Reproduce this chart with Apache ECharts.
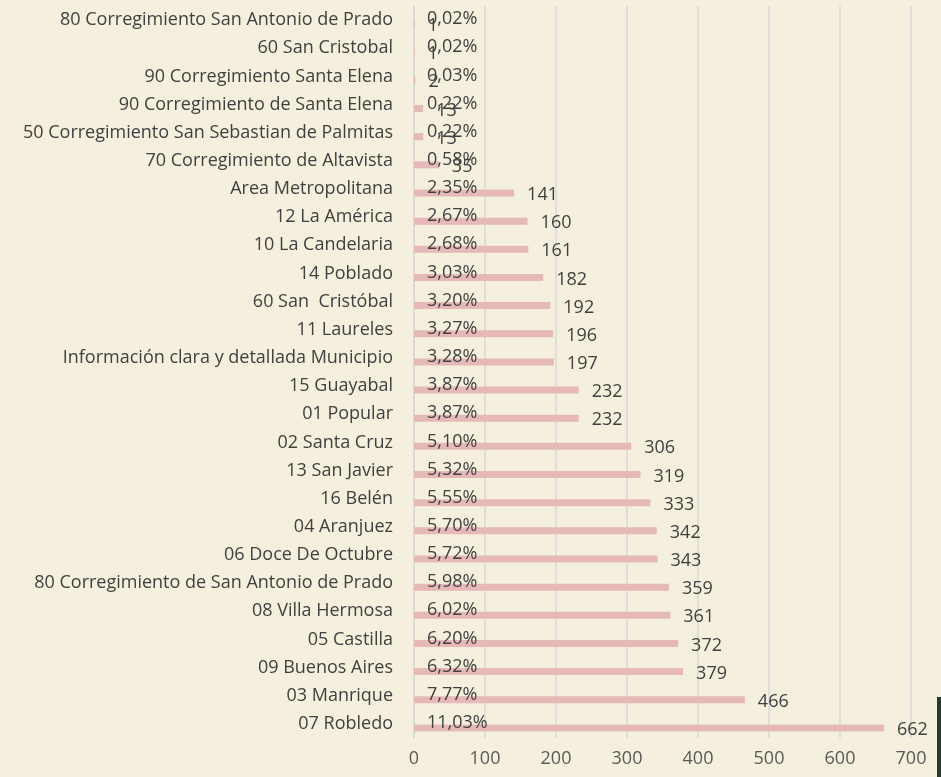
<!DOCTYPE html>
<html>
<head>
<meta charset="utf-8">
<script src="https://cdn.jsdelivr.net/npm/echarts@6/dist/echarts.min.js"></script>
<style>
  html, body { margin: 0; padding: 0; background: #f5f0de; }
  #chart { width: 941px; height: 777px; }
</style>
</head>
<body>
<div id="chart"></div>
<script>
// categories listed bottom -> top
var categories = [
  '07 Robledo', '03 Manrique', '09 Buenos Aires', '05 Castilla', '08 Villa Hermosa',
  '80 Corregimiento de San Antonio de Prado', '06 Doce De Octubre', '04 Aranjuez',
  '16 Belén', '13 San Javier', '02 Santa Cruz', '01 Popular', '15 Guayabal',
  'Información clara y detallada Municipio', '11 Laureles', '60 San  Cristóbal',
  '14 Poblado', '10 La Candelaria', '12 La América', 'Area Metropolitana',
  '70 Corregimiento de Altavista', '50 Corregimiento San Sebastian de Palmitas',
  '90 Corregimiento de Santa Elena', '90 Corregimiento Santa Elena',
  '60 San Cristobal', '80 Corregimiento San Antonio de Prado'
];
var counts = [662, 466, 379, 372, 361, 359, 343, 342, 333, 319, 306, 232, 232,
  197, 196, 192, 182, 161, 160, 141, 35, 13, 13, 2, 1, 1];
var percents = ['11,03%', '7,77%', '6,32%', '6,20%', '6,02%', '5,98%', '5,72%', '5,70%',
  '5,55%', '5,32%', '5,10%', '3,87%', '3,87%', '3,28%', '3,27%', '3,20%', '3,03%',
  '2,68%', '2,67%', '2,35%', '0,58%', '0,22%', '0,22%', '0,03%', '0,02%', '0,02%'];
var xTicks = [0, 100, 200, 300, 400, 500, 600, 700];

var chart = echarts.init(document.getElementById('chart'));
var font = '"Open Sans", "Noto Sans", sans-serif';

var option = {
  backgroundColor: '#f5f0de',
  animation: false,
  grid: { left: 414, right: 30, top: 6, bottom: 39, containLabel: false },
  xAxis: {
    type: 'value',
    min: xTicks[0],
    max: xTicks[xTicks.length - 1],
    interval: 100,
    axisLine: { show: false },
    axisTick: { show: false },
    splitLine: { lineStyle: { color: '#d9d9d9', width: 1.5 } },
    axisLabel: { color: '#595959', fontSize: 18, fontFamily: font, margin: 12 }
  },
  yAxis: {
    type: 'category',
    data: categories,
    axisLine: { show: true, lineStyle: { color: '#d9d9d9', width: 1.5 } },
    axisTick: { show: false },
    axisLabel: { color: '#404040', fontSize: 18, fontFamily: font, margin: 21 }
  },
  series: [
    {
      name: 'Porcentaje',
      type: 'bar',
      barWidth: 7,
      barGap: '14%',
      data: counts,
      itemStyle: { color: 'rgba(0,0,0,0)' },
      label: {
        show: true,
        position: 'insideLeft',
        distance: 13,
        offset: [0, 3],
        color: '#404040',
        fontSize: 18,
        fontFamily: font,
        formatter: function (p) { return percents[p.dataIndex]; }
      }
    },
    {
      name: 'Cantidad',
      type: 'bar',
      barWidth: 7,
      barGap: '14%',
      data: counts,
      itemStyle: { color: '#e6b9b8' },
      label: {
        show: true,
        position: 'right',
        distance: 13,
        offset: [0, 2],
        color: '#404040',
        fontSize: 18,
        fontFamily: font
      }
    }
  ],
  graphic: [
    { type: 'rect', right: 0, bottom: 0, shape: { width: 4, height: 80 }, style: { fill: '#1f3d35' } }
  ]
};
chart.setOption(option);
</script>
</body>
</html>
